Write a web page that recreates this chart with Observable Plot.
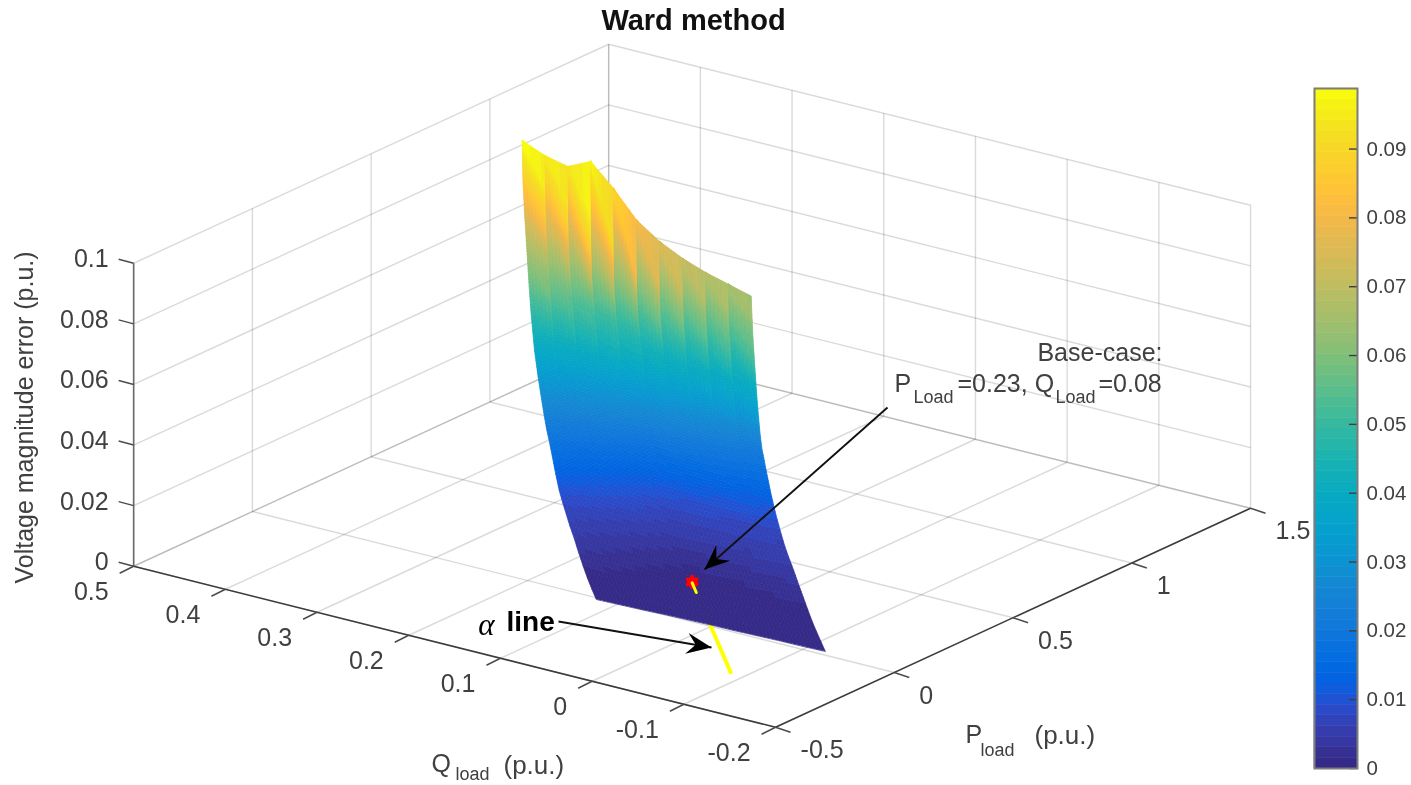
<!DOCTYPE html>
<html>
<head>
<meta charset="utf-8">
<style>
html,body{margin:0;padding:0;background:#fff;}
#chart{position:relative;width:1411px;height:785px;overflow:hidden;filter:blur(0.45px);}
#chart svg{position:absolute;left:0;top:0;background:transparent;}
</style>
<script src="https://cdn.jsdelivr.net/npm/d3@7"></script>
<script src="https://cdn.jsdelivr.net/npm/@observablehq/plot@0.6"></script>
</head>
<body>
<div id="chart"></div>
<script>
// ---- axes ----
const pTicks = [-0.5, 0, 0.5, 1, 1.5];
const qTicks = [0.5, 0.4, 0.3, 0.2, 0.1, 0, -0.1, -0.2];
const vTicks = [0, 0.02, 0.04, 0.06, 0.08, 0.1];
const colorTicks = [0, 0.01, 0.02, 0.03, 0.04, 0.05, 0.06, 0.07, 0.08, 0.09];
const colorMax = 0.0988;

// ---- surface mesh: one P per row, one Q / P offset per column ----
const pRows = [0,.05,.10,.15,.20,.25,.30,.34,.38,.42,.46,.50,.53,.56,.59,.62,.64,.66,.68,.70,.72,.74,.76,.78,.79,.80,.81,.82,.825,.83,.8325,.835,.8375,.84];
const qOffsets = [.122,.098,.074,.05,.026,.0015,-.0225,-.047,-.071,-.095,-.119];
const pOffsets = [-.012,-.0086,-.0052,-.0018,.0016,.005,.0084,.0118,.0152,.0186,.022];
const qPerP = 0.355;
// how many rows the shading of a column lags between its left and right seam
const facetLag = [0,0,0,0,0,0,0,0,0,0,0,0,0,0,0,0,0,0,0,.05,.1,.25,.4,.55,.75,1,1.25,1.6,2,2.3,2.5,2.7,2.9,3];
// voltage magnitude error in 1e-3 p.u. (rows as pRows, columns as qOffsets)
const errorMilli = [
[.2,.2,.2,.3,.3,.3,.2,.2,.2,.1,.1],
[.4,.3,.2,.1,.1,.2,.2,.2,.2,.2,.2],
[.9,.6,.4,.2,.1,.1,.1,.1,.2,.2,.3],
[1.8,1.3,.9,.5,.2,.1,.1,.2,.3,.4,.6],
[3,2.3,1.6,1,.5,.2,.3,.5,.7,1,1.3],
[4.5,3.5,2.6,1.9,1.2,.5,.8,1.1,1.5,1.9,2.2],
[5.5,4.6,3.8,3.1,2.4,1.7,1.9,2.2,2.5,2.8,3],
[6.8,5.8,5,4.2,3.4,2.6,2.8,3,3.3,3.6,3.8],
[8,7.2,6.4,5.5,4.6,3.7,3.8,4,4.2,4.4,4.5],
[9.6,8.8,8,7,6,5,5,5,5,5,5],
[12.5,11,9.8,8.6,7.4,6.3,6.2,6.1,6,5.9,5.8],
[16,13.5,11.8,10.5,9,7.6,7.5,7.4,7.3,7.2,7.2],
[18.5,16,14,12.5,10.5,9,8.9,8.8,8.7,8.6,8.5],
[20.5,18,16,14.5,12.5,11,10.8,10.5,10.3,10,9.8],
[23.5,21,19,17,15,13.5,13,12.5,12.2,11.8,11.5],
[27,24.5,22,20,18,16,15.5,15,14.5,14,13.4],
[29.5,27,25,22.5,20,18,17.5,17,16.5,15.8,15],
[32,30,28,25.5,23,21,20.5,19.5,18.5,17.5,16.5],
[35,33,31,29,26.5,24.5,23.5,22,21,19.5,18.2],
[38,36,34,32,30,28,26.5,25,23.5,21.5,20],
[43,40.5,38,36,33.5,31.5,29.5,28,26,23.5,21.5],
[48,45,42,39.5,37,35,33,31.5,29.5,27,25],
[55,51,47.5,44.5,41.5,39,37,35.5,33.5,32,30],
[63,58,53,49,45.5,43,41,39.5,38.5,37,36],
[67,61.5,56,51.5,48,45,43,42,41,40,39.5],
[71,65,59,54,50,47,45.5,45,44.5,43.5,43],
[75,68.5,62.5,57,53,49.5,48.5,48,47.5,47.5,47],
[80,73,67,61,56,52,51.5,51,51,51,51],
[83,77,71,66,60,55,54.5,54,54,53.5,53.5],
[85.5,81,76,72,65,58,57.5,57,56.5,56,56],
[88,84.5,81,80,70,62,60.5,60,59,58.5,57.5],
[91,88,85.5,87,76,66,64,63,62,60.5,59],
[94.5,91.5,89.5,92,82,73,70,67.5,65.5,63.5,61.5],
[98.6,95.3,93.4,96.8,89.6,80.8,75.5,71.6,68.7,66.5,64.3]
];

// ---- alpha line and base case ----
const baseP = 0.23, baseQ = 0.08;
const alphaBelow = [-1.05, 1];
const alphaAbove = [0.78, 1];

// ---- parula, 64 levels ----
const parula = [[.2081,.1663,.5292],[.2116,.1898,.5777],[.2123,.2138,.6270],[.2081,.2386,.6771],[.1959,.2645,.7279],[.1707,.2919,.7792],[.1253,.3242,.8303],[.0591,.3598,.8683],[.0117,.3875,.8820],[.0060,.4086,.8828],[.0165,.4266,.8786],[.0329,.4430,.8720],[.0498,.4586,.8641],[.0629,.4737,.8554],[.0723,.4887,.8467],[.0779,.5040,.8384],[.0793,.5200,.8312],[.0749,.5375,.8263],[.0641,.5570,.8240],[.0488,.5772,.8228],[.0343,.5966,.8199],[.0265,.6137,.8135],[.0239,.6287,.8038],[.0231,.6418,.7913],[.0228,.6535,.7768],[.0267,.6642,.7607],[.0384,.6743,.7436],[.0590,.6838,.7254],[.0843,.6928,.7062],[.1133,.7015,.6859],[.1453,.7098,.6646],[.1801,.7177,.6424],[.2178,.7250,.6193],[.2586,.7317,.5954],[.3022,.7376,.5712],[.3482,.7424,.5473],[.3953,.7459,.5244],[.4420,.7481,.5033],[.4871,.7491,.4840],[.5300,.7491,.4661],[.5709,.7485,.4494],[.6099,.7473,.4337],[.6473,.7456,.4188],[.6834,.7435,.4044],[.7184,.7411,.3905],[.7525,.7384,.3768],[.7858,.7356,.3633],[.8185,.7327,.3498],[.8507,.7299,.3360],[.8824,.7274,.3217],[.9139,.7258,.3063],[.9450,.7261,.2886],[.9739,.7314,.2666],[.9938,.7455,.2403],[.9990,.7653,.2164],[.9955,.7861,.1967],[.9880,.8066,.1794],[.9789,.8271,.1633],[.9697,.8481,.1475],[.9626,.8705,.1309],[.9589,.8949,.1132],[.9598,.9218,.0948],[.9661,.9514,.0755],[.9763,.9831,.0538]]
  .map(c => d3.rgb(c[0]*255, c[1]*255, c[2]*255).formatHex());

// ---- view: orthographic projection of the three data axes onto the picture ----
const camera = {ox: 710.4, oy: 626, qx: -917, qy: -230, px: 237.5, py: -109.5, vy: -3030};
const sx = (P, Q) => camera.ox + camera.qx * Q + camera.px * P;
const sy = (P, Q, V = 0) => camera.oy + camera.qy * Q + camera.py * P + camera.vy * V;

const pMin = d3.min(pTicks), pMax = d3.max(pTicks);
const qMin = d3.min(qTicks), qMax = d3.max(qTicks);
const vMin = d3.min(vTicks), vMax = d3.max(vTicks);
const seg = (a, b) => ({x1: sx(a[0], a[1]), y1: sy(a[0], a[1], a[2]), x2: sx(b[0], b[1]), y2: sy(b[0], b[1], b[2])});

const grid = [
  ...pTicks.map(p => seg([p, qMin, 0], [p, qMax, 0])),
  ...qTicks.map(q => seg([pMin, q, 0], [pMax, q, 0])),
  ...pTicks.map(p => seg([p, qMax, vMin], [p, qMax, vMax])),
  ...vTicks.map(v => seg([pMin, qMax, v], [pMax, qMax, v])),
  ...qTicks.map(q => seg([pMax, q, vMin], [pMax, q, vMax])),
  ...vTicks.map(v => seg([pMax, qMin, v], [pMax, qMax, v]))
];
const axisLines = [
  seg([pMin, qMax, 0], [pMin, qMin, 0]),
  seg([pMin, qMin, 0], [pMax, qMin, 0])
];
const zAxis = [seg([pMin, qMax, 0], [pMin, qMax, vMax])];
const tickLen = {zx: -15, zy: -4, qx: -14, qy: 7, px: 15, py: 5};
const tickMarks = [
  ...vTicks.map(v => ({x1: sx(pMin, qMax), y1: sy(pMin, qMax, v), x2: sx(pMin, qMax) + tickLen.zx, y2: sy(pMin, qMax, v) + tickLen.zy})),
  ...qTicks.map(q => ({x1: sx(pMin, q), y1: sy(pMin, q), x2: sx(pMin, q) + tickLen.qx, y2: sy(pMin, q) + tickLen.qy})),
  ...pTicks.map(p => ({x1: sx(p, qMin), y1: sy(p, qMin), x2: sx(p, qMin) + tickLen.px, y2: sy(p, qMin) + tickLen.py}))
];

// ---- surface: each mesh cell shaded across its corners, as an interpolated-shading surface is ----
const topRow = pRows.length - 1;
const node = (k, j) => {
  const P = pRows[k] + pOffsets[j], Q = qPerP * pRows[k] + qOffsets[j], V = errorMilli[k][j] / 1000;
  return {x: sx(P, Q), y: sy(P, Q, V), v: V};
};
const seam = (j, t) => {
  const k = Math.min(Math.floor(t), topRow - 1), f = t - k, a = node(k, j), b = node(k + 1, j);
  return {x: a.x + (b.x - a.x) * f, y: a.y + (b.y - a.y) * f, v: a.v + (b.v - a.v) * f};
};
const lagAt = t => {
  const k = Math.min(Math.floor(t), topRow - 1), f = t - k;
  return facetLag[k] + (facetLag[k + 1] - facetLag[k]) * f;
};
const stepsAcross = 6;
const facets = [];
let fid = 0;
for (let j = 0; j < qOffsets.length - 1; j++) {
  const stations = [];
  for (let k = 0; k < topRow; k++) {
    const dv = Math.max(Math.abs(errorMilli[k + 1][j] - errorMilli[k][j]), Math.abs(errorMilli[k + 1][j + 1] - errorMilli[k][j + 1]));
    const n = Math.max(1, Math.ceil(dv / 0.8));
    for (let i = 0; i < n; i++) stations.push(k + i / n);
  }
  const wedgeSteps = 12, lagTop = facetLag[topRow];
  for (let i = 0; i <= wedgeSteps; i++) stations.push(topRow + lagTop * i / wedgeSteps);
  const edge = t => {
    const tc = Math.min(t, topRow);
    const L = seam(j, tc), R = seam(j + 1, t - lagAt(tc)), Rv = seam(j + 1, tc);
    return {L, R, vl: L.v, vr: Rv.v};
  };
  for (let s = 0; s + 1 < stations.length; s++) {
    const e0 = edge(stations[s]), e1 = edge(stations[s + 1]);
    for (let c = 0; c < stepsAcross; c++) {
      const u0 = c / stepsAcross, u1 = (c + 1) / stepsAcross, um = (u0 + u1) / 2;
      const at = (e, u) => ({x: e.L.x + (e.R.x - e.L.x) * u, y: e.L.y + (e.R.y - e.L.y) * u});
      const v = ((e0.vl + e1.vl) / 2) * (1 - um) + ((e0.vr + e1.vr) / 2) * um;
      fid++;
      [at(e0, u0), at(e1, u0), at(e1, u1), at(e0, u1)].forEach(p => facets.push({id: fid, x: p.x, y: p.y, v}));
    }
  }
}

// ---- annotation arrows (picture coordinates) ----
const arrowSegs = [
  {x1: 887, y1: 407, x2: 704, y2: 569},
  {x1: 558, y1: 621, x2: 711, y2: 647}
];
const arrowHeads = arrowSegs.flatMap((a, i) => {
  const L = Math.hypot(a.x2 - a.x1, a.y2 - a.y1), ux = (a.x2 - a.x1) / L, uy = (a.y2 - a.y1) / L;
  const at = (back, side) => ({id: i, x: a.x2 - ux * back - uy * side, y: a.y2 - uy * back + ux * side});
  return [at(0, 0), at(25, 10.5), at(16, 0), at(25, -10.5)];
});

// ---- texts ----
const ink = "#404040";
const fs = 25;
const fsSub = 18;
const zLabels = vTicks.map(v => ({x: sx(pMin, qMax) - 25, y: sy(pMin, qMax, v) - 4, t: String(v)}));
const qLabels = qTicks.map(q => ({x: sx(pMin, q) - 25, y: sy(pMin, q) + 26, t: String(q)}));
const pLabels = pTicks.map(p => ({x: sx(p, qMin) + 25, y: sy(p, qMin) + 23, t: String(p)}));
const startTexts = [
  {x: 431, y: 763, t: "Q", s: fs},
  {x: 503, y: 765, t: "(p.u.)", s: 26},
  {x: 455, y: 774, t: "load", s: fsSub},
  {x: 965, y: 734, t: "P", s: fs},
  {x: 1034, y: 735, t: "(p.u.)", s: 26},
  {x: 980, y: 750, t: "load", s: fsSub},
  {x: 894, y: 383, t: "P", s: fs},
  {x: 913, y: 397, t: "Load", s: fsSub},
  {x: 957, y: 383, t: "=0.23, Q", s: fs},
  {x: 1055, y: 397, t: "Load", s: fsSub},
  {x: 1098, y: 383, t: "=0.08", s: fs}
];
const endTexts = [{x: 1162, y: 352, t: "Base-case:", s: fs}];

const textMark = (data, opts) => Plot.text(data, {x: "x", y: "y", text: "t", lineAnchor: "middle", fill: ink, fontSize: fs, ...opts});

const colorScale = {type: "quantize", domain: [0, colorMax], range: parula};

const main = Plot.plot({
  width: 1411, height: 785,
  marginTop: 0, marginRight: 0, marginBottom: 0, marginLeft: 0,
  style: {fontFamily: "'Liberation Sans', Arial, sans-serif", background: "transparent"},
  x: {domain: [0, 1411], range: [0, 1411], axis: null},
  y: {domain: [0, 785], range: [0, 785], axis: null},
  color: colorScale,
  marks: [
    Plot.link(grid, {x1: "x1", y1: "y1", x2: "x2", y2: "y2", stroke: "#262626", strokeOpacity: 0.17, strokeWidth: 1.4}),
    Plot.link(zAxis, {x1: "x1", y1: "y1", x2: "x2", y2: "y2", stroke: "#6a6a6a", strokeWidth: 1.6}),
    Plot.link(axisLines, {x1: "x1", y1: "y1", x2: "x2", y2: "y2", stroke: "#3c3c3c", strokeWidth: 1.5}),
    Plot.link(tickMarks, {x1: "x1", y1: "y1", x2: "x2", y2: "y2", stroke: "#4a4a4a", strokeWidth: 1.4}),
    Plot.line(alphaBelow, {x: a => sx(a * baseP, a * baseQ), y: a => sy(a * baseP, a * baseQ), stroke: "#ffff00", strokeWidth: 4}),
    Plot.line(facets, {x: "x", y: "y", z: "id", fill: "v", stroke: "v", strokeWidth: 0.7, curve: "linear-closed"}),
    Plot.dot([1], {x: a => sx(a * baseP, a * baseQ), y: a => sy(a * baseP, a * baseQ) - 1, r: 5.5, fill: "#ff0000"}),
    Plot.dot([1], {x: a => sx(a * baseP, a * baseQ), y: a => sy(a * baseP, a * baseQ) - 1, symbol: "asterisk", r: 6.5, stroke: "#ff0000", strokeWidth: 3.5}),
    Plot.line(alphaAbove, {x: a => sx(a * baseP, a * baseQ), y: a => sy(a * baseP, a * baseQ), stroke: "#ffff00", strokeWidth: 3}),
    Plot.link(arrowSegs, {x1: "x1", y1: "y1", x2: "x2", y2: "y2", stroke: "#111", strokeWidth: 1.9}),
    Plot.line(arrowHeads, {x: "x", y: "y", z: "id", fill: "#000", stroke: "none", curve: "linear-closed"}),
    textMark(zLabels, {textAnchor: "end"}),
    textMark(qLabels, {textAnchor: "end"}),
    textMark(pLabels, {textAnchor: "start"}),
    textMark(startTexts, {textAnchor: "start", fontSize: "s"}),
    textMark(endTexts, {textAnchor: "end", fontSize: "s"}),
    Plot.text(["Voltage magnitude error (p.u.)"], {x: () => 24, y: () => 417, text: d => d, rotate: -90, fill: ink, fontSize: 25, lineAnchor: "middle"}),
    Plot.text(["Ward method"], {x: () => 693, y: () => 20, text: d => d, fill: "#111", fontSize: 29, fontWeight: "bold", lineAnchor: "middle"}),
    Plot.text(["\u03b1"], {x: () => 486, y: () => 625, text: d => d, fill: "#000", fontSize: 31, fontStyle: "italic", fontFamily: "'Liberation Serif', serif", lineAnchor: "middle"}),
    Plot.text(["line"], {x: () => 506, y: () => 622, text: d => d, textAnchor: "start", fill: "#000", fontSize: 28, fontWeight: "bold", lineAnchor: "middle"})
  ]
});

// ---- colour bar, on its own value scale ----
const levelStep = colorMax / parula.length;
const levels = parula.map((_, i) => i);
const bar = Plot.plot({
  width: 1411, height: 785,
  marginTop: 88, marginBottom: 17, marginLeft: 1314, marginRight: 54,
  style: {fontFamily: "'Liberation Sans', Arial, sans-serif", background: "transparent"},
  x: {domain: [0, 1], axis: null},
  y: {domain: [0, colorMax], axis: null},
  color: colorScale,
  marks: [
    Plot.rect(levels, {x1: () => 0, x2: () => 1, y1: i => i * levelStep, y2: i => (i + 1) * levelStep, fill: i => (i + 0.5) * levelStep, stroke: i => (i + 0.5) * levelStep, strokeWidth: 0.5}),
    Plot.tickY(colorTicks, {y: d => d, insetLeft: 35, stroke: "#404040", strokeWidth: 1.4}),
    Plot.frame({stroke: "#7d7d7d", strokeWidth: 2}),
    Plot.axisY(colorTicks, {anchor: "right", tickSize: 0, tickPadding: 9, tickFormat: d => String(d), fontSize: 20.5, color: ink, fill: ink, label: null})
  ]
});

const host = document.getElementById("chart");
host.appendChild(main);
host.appendChild(bar);
</script>
</body>
</html>
